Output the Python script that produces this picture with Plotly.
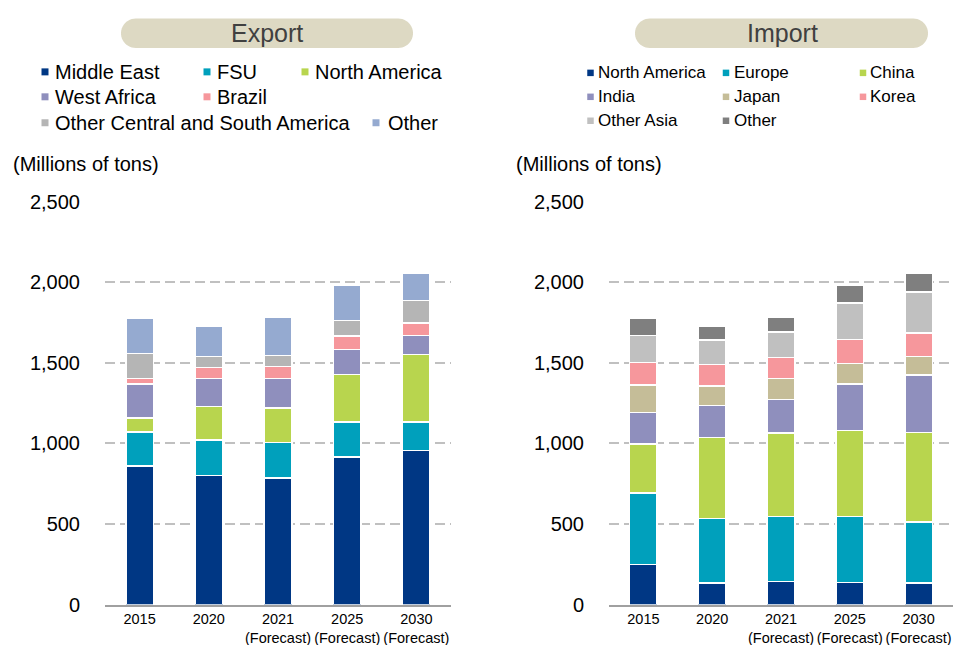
import numpy as np
import plotly.graph_objects as go

# ---------------- data ----------------
years = ["2015", "2020", "2021", "2025", "2030"]
year_labels = ["2015", "2020", "2021<br>(Forecast)", "2025<br>(Forecast)", "2030<br>(Forecast)"]

export_names = ["Middle East", "FSU", "North America", "West Africa", "Brazil",
                "Other Central and South America", "Other"]
export_middle_east = [860, 800, 785, 915, 955]
export_fsu = [210, 220, 222, 218, 178]
export_north_america = [87, 210, 213, 293, 419]
export_west_africa = [210, 173, 183, 157, 116]
export_brazil = [37, 67, 73, 83, 78]
export_other_csa = [153, 68, 70, 95, 141]
export_other = [219, 190, 235, 218, 167]
export_values = [export_middle_east, export_fsu, export_north_america, export_west_africa,
                 export_brazil, export_other_csa, export_other]
export_colors = ["#003784", "#00A0BC", "#B8D54E", "#8F8FBD", "#F6979C", "#B5B5B5", "#95AAD0"]

import_names = ["North America", "Europe", "China", "India", "Japan", "Korea", "Other Asia", "Other"]
import_north_america = [248, 134, 142, 138, 134]
import_europe = [443, 401, 405, 407, 378]
import_china = [306, 501, 518, 534, 557]
import_india = [196, 198, 208, 289, 355]
import_japan = [169, 122, 128, 128, 116]
import_korea = [141, 132, 133, 147, 144]
import_other_asia = [165, 153, 156, 227, 256]
import_other = [107, 87, 91, 109, 114]
import_values = [import_north_america, import_europe, import_china, import_india,
                 import_japan, import_korea, import_other_asia, import_other]
import_colors = ["#003784", "#00A0BC", "#B8D54E", "#8F8FBD", "#C5BD98", "#F6979C", "#C0C0C0", "#7F7F7F"]

y_ticks = [0, 500, 1000, 1500, 2000, 2500]
y_tick_labels = ["0", "500", "1,000", "1,500", "2,000", "2,500"]

# ---------------- layout helpers ----------------
# page offsets observed in the photographed page
OX = 8
W = 946
YO, YS = 17.0, 0.97
H = 650
FONT = "Arial, Liberation Sans, sans-serif"


def px_x(x):
    return (x - OX) / W


def px_y(y):
    return 1 - ((y - YO) / YS) / H


fig = go.Figure()

for vals, name, col in zip(export_values, export_names, export_colors):
    fig.add_trace(go.Bar(x=year_labels, y=vals, name=name, marker_color=col,
                         marker_line=dict(color="white", width=1.5), width=0.4,
                         xaxis="x", yaxis="y", showlegend=False))
for vals, name, col in zip(import_values, import_names, import_colors):
    fig.add_trace(go.Bar(x=year_labels, y=vals, name=name, marker_color=col,
                         marker_line=dict(color="white", width=1.5), width=0.4,
                         xaxis="x2", yaxis="y2", showlegend=False))

y_dom = [px_y(605), px_y(605 - 2505 * 0.1616)]

xax = dict(type="category", showgrid=False, showline=True, linecolor="#A0A0A0", linewidth=2,
           ticks="", tickfont=dict(size=14.5, color="#000000", family=FONT), zeroline=False,
           fixedrange=True)
yax = dict(range=[0, 2505], tickvals=y_ticks, ticktext=y_tick_labels, showgrid=True,
           gridcolor="#C0C0C0", gridwidth=2, griddash="10px,5px", zeroline=False,
           showline=False, ticks="", ticklabelstandoff=24,
           tickfont=dict(size=20, color="#000000", family=FONT), domain=y_dom)

fig.update_layout(
    width=W, height=H, margin=dict(l=0, r=0, t=0, b=0),
    paper_bgcolor="white", plot_bgcolor="white", barmode="stack",
    font=dict(family=FONT, color="#000000"),
    xaxis=dict(xax, domain=[px_x(105), px_x(451)], anchor="y"),
    yaxis=dict(yax, anchor="x"),
    xaxis2=dict(xax, domain=[px_x(609), px_x(953)], anchor="y2"),
    yaxis2=dict(yax, anchor="x2"),
)

shapes = []
annotations = []


def pill(x0, x1, y0, y1, color):
    r = (y1 - y0) / 2
    cy = (y0 + y1) / 2
    pts = []
    for a in np.linspace(-np.pi / 2, np.pi / 2, 24):
        pts.append((x1 - r + r * np.cos(a), cy + r * np.sin(a)))
    for a in np.linspace(np.pi / 2, 3 * np.pi / 2, 24):
        pts.append((x0 + r + r * np.cos(a), cy + r * np.sin(a)))
    path = "M " + " L ".join(f"{px_x(x):.5f},{px_y(y):.5f}" for x, y in pts) + " Z"
    return dict(type="path", xref="paper", yref="paper", path=path,
                fillcolor=color, line=dict(width=0), layer="below")


shapes.append(pill(121, 413, 17.5, 47, "#DDD9C3"))
shapes.append(pill(635, 928, 17.5, 47, "#DDD9C3"))
annotations.append(dict(text="Export", x=px_x(267), y=px_y(32.5), xref="paper", yref="paper",
                        showarrow=False, xanchor="center", yanchor="middle",
                        font=dict(size=25, color="#404040", family=FONT)))
annotations.append(dict(text="Import", x=px_x(782), y=px_y(32.5), xref="paper", yref="paper",
                        showarrow=False, xanchor="center", yanchor="middle",
                        font=dict(size=25, color="#404040", family=FONT)))

for xpos in (13, 516):
    annotations.append(dict(text="(Millions of tons)", x=px_x(xpos), y=px_y(163), xref="paper",
                            yref="paper", showarrow=False, xanchor="left", yanchor="middle",
                            xshift=-2, font=dict(size=20, color="#000000", family=FONT)))

# legend layout (pixel positions): marker centre x, text x, row y
export_leg_pos = [(45, 55, 71), (207, 217, 71), (305, 315, 71),
                  (45, 55, 96), (207, 217, 96),
                  (45, 55, 122), (376, 388, 122)]
import_leg_pos = [(590.5, 598, 72), (726, 734, 72), (863, 870, 72),
                  (590.5, 598, 96), (726, 734, 96), (863, 870, 96),
                  (590.5, 598, 120), (726, 734, 120)]


def add_legend(names, colors, positions, sq, fsize):
    for name, col, (mx, tx, ry) in zip(names, colors, positions):
        shapes.append(dict(type="rect", xref="paper", yref="paper",
                           x0=px_x(mx - sq / 2), x1=px_x(mx + sq / 2),
                           y0=px_y(ry + sq / 2), y1=px_y(ry - sq / 2),
                           fillcolor=col, line=dict(width=0)))
        annotations.append(dict(text=name, x=px_x(tx), y=px_y(ry), xref="paper", yref="paper",
                                showarrow=False, xanchor="left", yanchor="middle",
                                xshift=-2, font=dict(size=fsize, color="#000000", family=FONT)))


add_legend(export_names, export_colors, export_leg_pos, 7, 20)
add_legend(import_names, import_colors, import_leg_pos, 6.5, 17)

fig.update_layout(shapes=shapes, annotations=annotations)
fig.write_html("out.html")
